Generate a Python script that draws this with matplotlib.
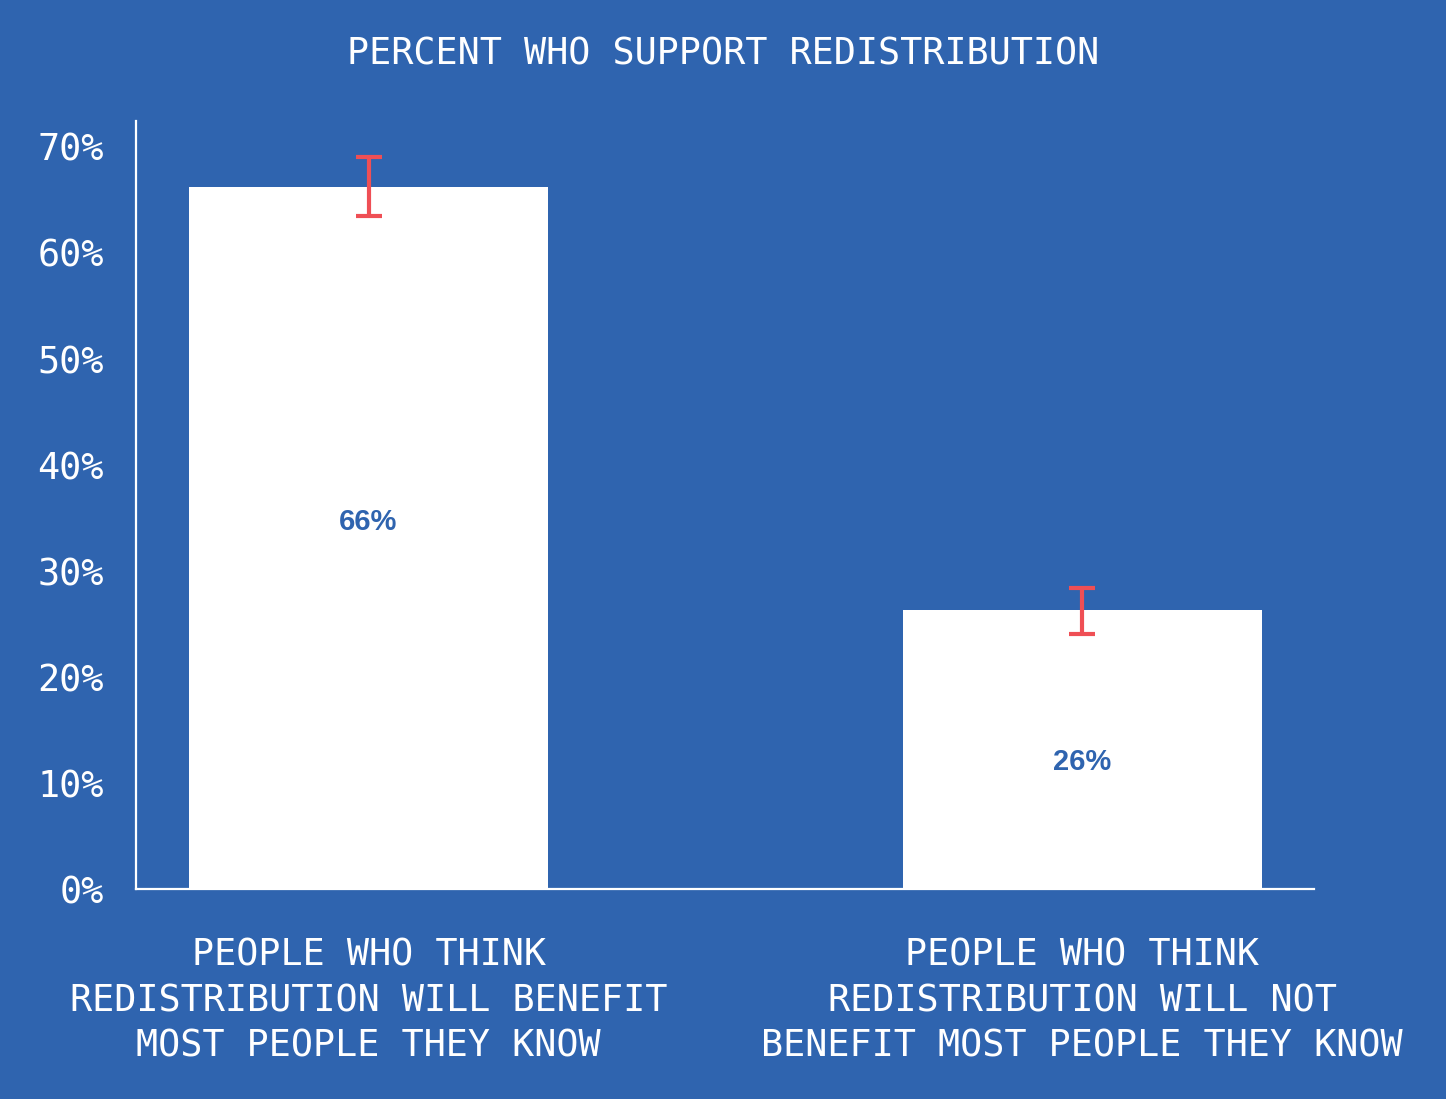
import matplotlib
matplotlib.use("Agg")
import matplotlib.pyplot as plt
from matplotlib.ticker import FuncFormatter

BG = "#2F64AF"
ERR = "#EF4F55"

categories = [
    "PEOPLE WHO THINK\nREDISTRIBUTION WILL BENEFIT\nMOST PEOPLE THEY KNOW",
    "PEOPLE WHO THINK\nREDISTRIBUTION WILL NOT\nBENEFIT MOST PEOPLE THEY KNOW",
]
support = [66.2, 26.3]
err_low = [2.8, 2.3]
err_high = [2.8, 2.1]
bar_labels = ["66%", "26%"]
label_y = [34.6, 12.0]
yticks = [0, 10, 20, 30, 40, 50, 60, 70]

plt.rcParams["font.family"] = ["DejaVu Sans Mono"]

fig = plt.figure(figsize=(14.46, 10.99), dpi=100, facecolor=BG)
ax = fig.add_axes([0.094, 0.191, 0.8147, 0.699], facecolor=BG)

x = range(len(categories))
ax.bar(x, support, width=0.503, color="white", zorder=2)
ax.errorbar(x, support, yerr=[err_low, err_high], fmt="none", ecolor=ERR,
            elinewidth=3, capsize=9.5, capthick=3, zorder=3)

for xi, ly, txt in zip(x, label_y, bar_labels):
    ax.text(xi, ly, txt, ha="center", va="center", color=BG, fontsize=21,
            fontweight="bold", family="Liberation Sans", zorder=4)

ax.set_xlim(-0.326, 1.325)
ax.set_ylim(0, 72.4)
ax.set_yticks(yticks)
ax.yaxis.set_major_formatter(FuncFormatter(lambda v, p: f"{v:.0f}%"))
ax.set_xticks(list(x))
ax.set_xticklabels(categories, linespacing=1.3)
ax.tick_params(axis="y", length=0, pad=23, labelsize=26.5, labelcolor="white")
ax.tick_params(axis="x", length=0, pad=34, labelsize=26.5, labelcolor="white")

for side in ["top", "right"]:
    ax.spines[side].set_visible(False)
for side in ["left", "bottom"]:
    ax.spines[side].set_color("white")
    ax.spines[side].set_linewidth(1.6)

fig.text(0.5, 0.951, "PERCENT WHO SUPPORT REDISTRIBUTION", ha="center",
         va="center", color="white", fontsize=26.5)

fig.savefig("out.png", dpi=100, facecolor=BG)
